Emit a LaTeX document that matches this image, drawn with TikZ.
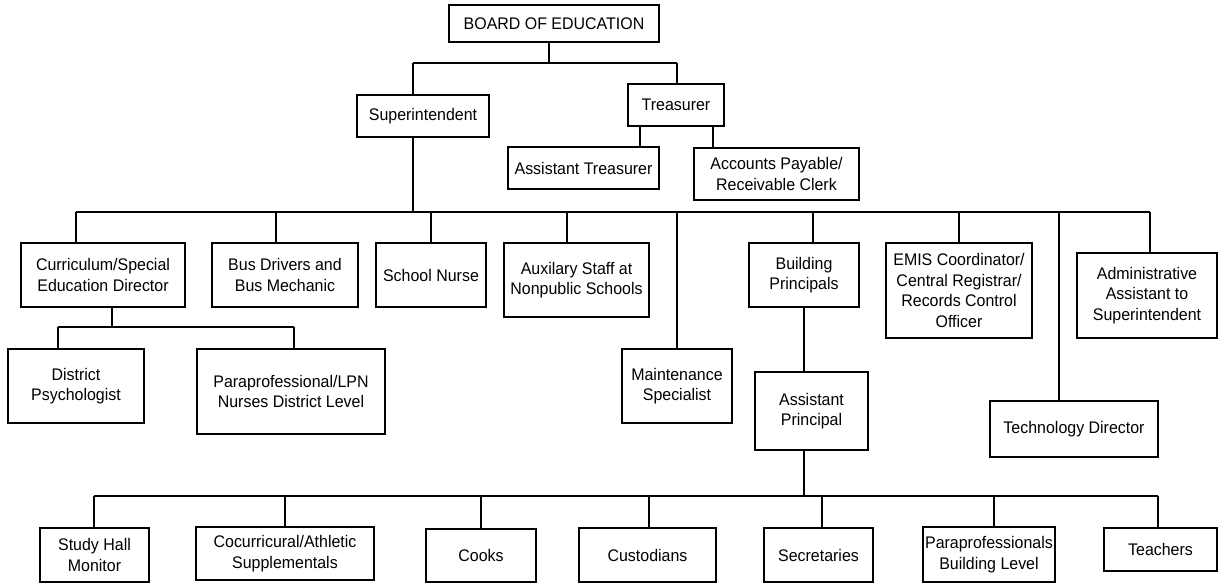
\documentclass[tikz,border=0pt]{standalone}
\usepackage{fontspec}
\setmainfont[FakeStretch=0.95]{Liberation Sans}
\def\u{0.75pt}
\tikzset{
	box/.style={draw,line width=1.3pt,align=center,inner sep=0pt,font=\fontsize{12.6}{15.5}\selectfont},
	sz/.style 2 args={minimum width=#1*\u,minimum height=#2*\u},
	link/.style={line width=1.1pt}
}
\begin{document}
\begin{tikzpicture}[x=\u,y=-\u]
	\useasboundingbox (0,0) rectangle (1220,583);
	% top of the chart
	\node[box,sz={210}{37}] (board) at (554,23.5) {BOARD OF EDUCATION};
	\node[box,sz={132}{42}] (sup) at (423,116) {Superintendent};
	\node[box,sz={96}{42}] (tre) at (676,105) {Treasurer};
	\node[box,sz={151}{42}] (atre) at (583.5,168) {Assistant Treasurer};
	\node[box,sz={165}{52}] (acc) at (776.5,174) {Accounts Payable/\\Receivable Clerk};
	% second row
	\node[box,sz={164}{64}] (cur) at (103,275) {Curriculum/Special\\Education Director};
	\node[box,sz={146}{64}] (bus) at (285,275) {Bus Drivers and\\Bus Mechanic};
	\node[box,sz={110}{64}] (nurse) at (431,275) {School Nurse};
	\node[box,sz={145}{74}] (aux) at (576.5,280) {Auxilary Staff at\\Nonpublic Schools};
	\node[box,sz={110}{74}] (maint) at (677,386) {Maintenance\\Specialist};
	\node[box,sz={110}{64}] (bp) at (804,275) {Building\\Principals};
	\node[box,sz={113}{78}] (ap) at (811.5,411) {Assistant\\Principal};
	\node[box,sz={146}{95}] (emis) at (959,290.5) {EMIS Coordinator/\\Central Registrar/\\Records Control\\Officer};
	\node[box,sz={168}{56}] (tech) at (1074,429) {Technology Director};
	\node[box,sz={140}{85}] (admin) at (1147,295.5) {Administrative\\Assistant to\\Superintendent};
	\node[box,sz={136}{74}] (dpsy) at (76,386) {District\\Psychologist};
	\node[box,sz={188}{85}] (lpn) at (291,391.5) {Paraprofessional/LPN\\Nurses District Level};
	% building staff
	\node[box,sz={109}{54}] (study) at (94.5,555) {Study Hall\\Monitor};
	\node[box,sz={178}{53}] (cocur) at (285,553.5) {Cocurricural/Athletic\\Supplementals};
	\node[box,sz={110}{53}] (cooks) at (481,555.5) {Cooks};
	\node[box,sz={137}{54}] (cust) at (647.5,555) {Custodians};
	\node[box,sz={109}{54}] (sec) at (818.5,555) {Secretaries};
	\node[box,sz={132}{55}] (pbl) at (989,554.5) {Paraprofessionals\\Building Level};
	\node[box,sz={113}{43}] (teach) at (1160.5,549.5) {Teachers};
	% board level
	\coordinate (bx) at (549,63);
	\coordinate (tl) at (413,63);
	\coordinate (tr) at (677,63);
	\draw[link] (bx |- board.south) -- (bx);
	\draw[link] (tl) -- (tr);
	\draw[link] (tl) -- (tl |- sup.north);
	\draw[link] (tr) -- (tr |- tre.north);
	\coordinate (ta) at (640,0);
	\coordinate (tb) at (713,0);
	\draw[link] (ta |- tre.south) -- (ta |- atre.north);
	\draw[link] (tb |- tre.south) -- (tb |- acc.north);
	% superintendent level
	\foreach \x/\n in {76/cur,276/bus,431/nurse,567/aux,677/maint,813/bp,959/emis,1059/tech,1150/admin}{
		\coordinate (j\n) at (\x,212);
		\draw[link] (j\n) -- (j\n |- \n.north);
	}
	\draw[link] (jcur) -- (jadmin);
	\draw[link] (tl |- sup.south) -- (tl |- jcur);
	% curriculum director
	\coordinate (cx) at (112,327);
	\draw[link] (cx |- cur.south) -- (cx);
	\foreach \x/\n in {58/dpsy,294/lpn}{
		\coordinate (c\n) at (\x,327);
		\draw[link] (c\n) -- (c\n |- \n.north);
	}
	\draw[link] (cdpsy) -- (clpn);
	% principals
	\coordinate (px) at (804,496);
	\draw[link] (px |- bp.south) -- (px |- ap.north);
	\draw[link] (px |- ap.south) -- (px);
	\foreach \x/\n in {94/study,285/cocur,481/cooks,649/cust,822/sec,994/pbl,1158/teach}{
		\coordinate (k\n) at (\x,496);
		\draw[link] (k\n) -- (k\n |- \n.north);
	}
	\draw[link] (kstudy) -- (kteach);
\end{tikzpicture}
\end{document}
